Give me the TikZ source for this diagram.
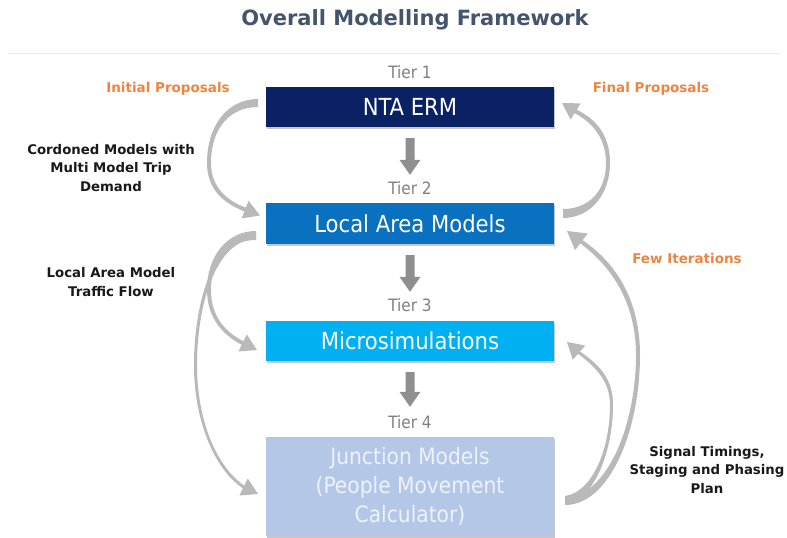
\documentclass[tikz,border=0pt]{standalone}
\usepackage{fontspec}
\setmainfont{DejaVu Sans}
\newfontfamily\condfont{DejaVu Sans Condensed}
\usetikzlibrary{calc,shadows}

\definecolor{titlecol}{HTML}{44546A}
\definecolor{ermcol}{HTML}{0A2163}
\definecolor{lamcol}{HTML}{0A70C0}
\definecolor{microcol}{HTML}{00B0F0}
\definecolor{junccol}{HTML}{B4C7E7}
\definecolor{junctext}{HTML}{EEF2FA}
\definecolor{tiercol}{HTML}{7F7F7F}
\definecolor{downcol}{HTML}{8F8F8F}
\definecolor{flowcol}{HTML}{B9B9B9}
\definecolor{notecol}{HTML}{EE8440}

% straight block arrow between two tiers: #1 = top of shaft, #2 = tip
\newcommand\tierdown[2]{%
  \fill[downarrow] ($(#1)+(-4.5,0)$) -- ($(#2)+(-4.5,-15)$) -- ($(#2)+(-10.5,-15)$)
    -- (#2) -- ($(#2)+(10.5,-15)$) -- ($(#2)+(4.5,-15)$) -- ($(#1)+(4.5,0)$) -- cycle;}

\begin{document}
\begin{tikzpicture}[x=1pt,y=-1pt,
  tierbox/.style={minimum width=288pt, inner sep=0pt, align=center,
    text=white, font=\condfont\fontsize{23.5}{29}\selectfont,
    drop shadow={shadow xshift=1pt, shadow yshift=-2pt, opacity=0.22, fill=black}},
  tierlabel/.style={text=tiercol, font=\condfont\fontsize{17}{19}\selectfont},
  note/.style={text=notecol, font=\bfseries\fontsize{13.5}{16}\selectfont},
  remark/.style={text=black!90, align=center, font=\bfseries\fontsize{13.3}{18.5}\selectfont},
  downarrow/.style={fill=downcol},
  flow/.style={fill=flowcol}]

\useasboundingbox (0,0) rectangle (787,538);

% heading
\node[text=titlecol, font=\bfseries\fontsize{21}{25}\selectfont] (title) at (415,20) {Overall Modelling Framework};
\draw[black!8, line width=0.8pt] (8,53) -- (780,53);

% the four tiers
\node[tierbox, fill=ermcol, minimum height=40pt] (erm) at (410,107) {NTA ERM};
\node[tierbox, fill=lamcol, minimum height=41pt] (lam) at (410,223.5) {Local Area Models};
\node[tierbox, fill=microcol, minimum height=40pt] (micro) at (410,341) {Microsimulations};
\node[tierbox, fill=junccol, minimum height=99pt, text=junctext,
      font=\condfont\fontsize{22.5}{29}\selectfont] (junc) at (410,486.5)
      {Junction Models\\(People Movement\\Calculator)};

\node[tierlabel] (t1) at ($(erm.north)+(0,-15)$) {Tier 1};
\node[tierlabel] (t2) at ($(lam.north)+(0,-15)$) {Tier 2};
\node[tierlabel] (t3) at ($(micro.north)+(0,-16)$) {Tier 3};
\node[tierlabel] (t4) at ($(junc.north)+(0,-15)$) {Tier 4};

% block arrows from tier to tier
\coordinate (d1s) at ($(erm.south)+(0,11)$);
\coordinate (d1e) at ($(lam.north)+(0,-28)$);
\coordinate (d2s) at ($(lam.south)+(0,11)$);
\coordinate (d2e) at ($(micro.north)+(0,-29)$);
\coordinate (d3s) at ($(micro.south)+(0,11)$);
\coordinate (d3e) at ($(junc.north)+(0,-30)$);
\tierdown{d1s}{d1e}
\tierdown{d2s}{d2e}
\tierdown{d3s}{d3e}

% curved flows on the left
% NTA ERM -> Local Area Models
\fill[flow] (258,99) .. controls (228,99) and (207,125) .. (207,163)
  .. controls (207,190) and (224,203) .. (244.4,211.5)
  -- (241.6,218.4) -- (260,215.5) -- (248.6,200.8) -- (245.8,207.7)
  .. controls (228,201) and (211,188) .. (211,163)
  .. controls (211,128) and (230,107) .. (258,107) -- cycle;
% Local Area Models -> Microsimulations
\fill[flow] (256,231) .. controls (228,231) and (207,255) .. (207,290)
  .. controls (207,318) and (223,335) .. (241.7,344.8)
  -- (238.4,351.5) -- (257,350) -- (246.8,334.5) -- (243.5,341.2)
  .. controls (227,333) and (211,318) .. (211,290)
  .. controls (211,258) and (230,240) .. (256,240) -- cycle;
% Local Area Models -> Junction Models
\fill[flow] (256,233) .. controls (215,233) and (194,300) .. (194,365)
  .. controls (194,420) and (214,469) .. (242.9,488.3)
  -- (239.4,495.5) -- (258,494) -- (247.8,478.5) -- (244.3,485.7)
  .. controls (216,466) and (197,420) .. (197,365)
  .. controls (197,300) and (218,239) .. (256,239) -- cycle;

% curved flows on the right
% Local Area Models -> NTA ERM
\fill[flow] (563,218) .. controls (590,218) and (610,195) .. (610,163)
  .. controls (610,135) and (596,119) .. (576.7,109.8)
  -- (580.6,103.4) -- (562,103) -- (570.6,119.6) -- (574.5,113.2)
  .. controls (592,122) and (606,138) .. (606,163)
  .. controls (606,192) and (588,209) .. (563,209) -- cycle;
% Junction Models -> Local Area Models
\fill[flow] (565,505) .. controls (610,505) and (640,430) .. (640,355)
  .. controls (640,300) and (616,263) .. (582.6,240.2)
  -- (587.7,233.4) -- (567,231) -- (575.1,250.2) -- (580.2,243.4)
  .. controls (611,266) and (636,302) .. (636,355)
  .. controls (636,425) and (607,497) .. (565,497) -- cycle;
% Junction Models -> Microsimulations
\fill[flow] (565,504) .. controls (595,500) and (613,450) .. (613,405)
  .. controls (613,380) and (601,366) .. (580,351.5)
  -- (585.3,345.5) -- (567,342) -- (572.7,359.7) -- (578,353.7)
  .. controls (597,368) and (610,382) .. (610,405)
  .. controls (610,448) and (593,492) .. (565,496) -- cycle;

% annotations
\node[note] (init) at (168,89) {Initial Proposals};
\node[note] (final) at (651,89) {Final Proposals};
\node[note] (iter) at (687,258) {Few Iterations};
\node[remark] (cordon) at (111,168) {Cordoned Models with\\Multi Model Trip\\Demand};
\node[remark] (traffic) at (111,282) {Local Area Model\\Traffic Flow};
\node[remark] (signal) at (707,470) {Signal Timings,\\Staging and Phasing\\Plan};
\end{tikzpicture}
\end{document}
